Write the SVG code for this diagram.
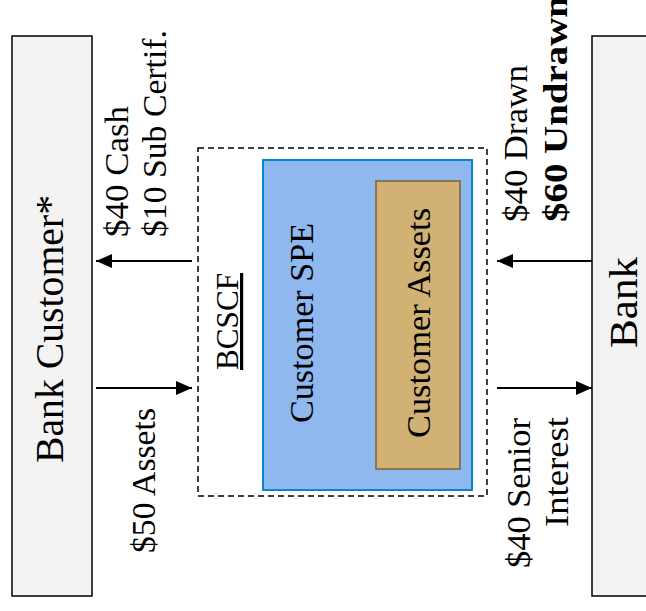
<svg xmlns="http://www.w3.org/2000/svg" width="646" height="611" viewBox="0 0 646 611">
<style>
  text { font-family: "Liberation Serif", "Times New Roman", serif; fill: #000; }
  .big { font-size: 40px; }
  .lbl { font-size: 34px; }
  .bold { font-weight: bold; }
  .party { fill: #f3f3f3; stroke: #000; stroke-width: 1.5; }
  .conn { stroke: #000; stroke-width: 2; fill: none; marker-end: url(#ah); }
</style>
<defs>
  <marker id="ah" viewBox="0 0 16 14" refX="16" refY="7" markerWidth="16" markerHeight="14" markerUnits="userSpaceOnUse" orient="auto">
    <path d="M0,0 L16,7 L0,14 Z" fill="#000"/>
  </marker>
</defs>
<rect width="646" height="611" fill="#fff"/>

<g id="bank-customer">
  <rect class="party" x="12" y="36" width="80" height="560"/>
  <text class="big" transform="translate(63,463) rotate(-90)" textLength="268" lengthAdjust="spacingAndGlyphs">Bank Customer*</text>
</g>

<g id="bank">
  <rect class="party" x="592" y="36" width="70" height="560"/>
  <text class="big" transform="translate(637,348) rotate(-90)" textLength="91" lengthAdjust="spacingAndGlyphs">Bank</text>
</g>

<g id="bcscf">
  <rect x="198" y="148" width="289" height="348" fill="none" stroke="#000" stroke-width="1.5" stroke-dasharray="6,4"/>
  <text class="lbl" font-size="32" style="font-size:32px" text-decoration="underline" transform="translate(238,370) rotate(-90)" textLength="97" lengthAdjust="spacingAndGlyphs">BCSCF</text>
</g>

<g id="customer-spe">
  <rect x="263" y="160" width="209" height="330" fill="#8fb8ef" stroke="#0a84d0" stroke-width="2"/>
  <text class="lbl" transform="translate(313,423) rotate(-90)" textLength="200" lengthAdjust="spacingAndGlyphs">Customer SPE</text>
</g>

<g id="customer-assets">
  <rect x="376" y="181" width="84" height="288" fill="#d1b274" stroke="#7a6233" stroke-width="1.5"/>
  <text class="lbl" transform="translate(430,438) rotate(-90)" textLength="230" lengthAdjust="spacingAndGlyphs">Customer Assets</text>
</g>

<g id="connectors">
  <line class="conn" x1="192" y1="261" x2="96" y2="261"/>
  <line class="conn" x1="96" y1="388" x2="192" y2="388"/>
  <line class="conn" x1="592" y1="261" x2="497" y2="261"/>
  <line class="conn" x1="497" y1="388" x2="592" y2="388"/>
</g>

<g id="labels">
  <text class="lbl" transform="translate(128,237) rotate(-90)" textLength="131" lengthAdjust="spacingAndGlyphs">$40 Cash</text>
  <text class="lbl" transform="translate(166,237) rotate(-90)" textLength="207" lengthAdjust="spacingAndGlyphs">$10 Sub Certif.</text>
  <text class="lbl" transform="translate(155,553) rotate(-90)" textLength="145" lengthAdjust="spacingAndGlyphs">$50 Assets</text>
  <text class="lbl" transform="translate(527,222) rotate(-90)" textLength="157" lengthAdjust="spacingAndGlyphs">$40 Drawn</text>
  <text class="lbl bold" transform="translate(567,222) rotate(-90)" textLength="226" lengthAdjust="spacingAndGlyphs">$60 Undrawn</text>
  <text class="lbl" transform="translate(530,568) rotate(-90)" textLength="150" lengthAdjust="spacingAndGlyphs">$40 Senior</text>
  <text class="lbl" transform="translate(568,527) rotate(-90)" textLength="110" lengthAdjust="spacingAndGlyphs">Interest</text>
</g>
</svg>
